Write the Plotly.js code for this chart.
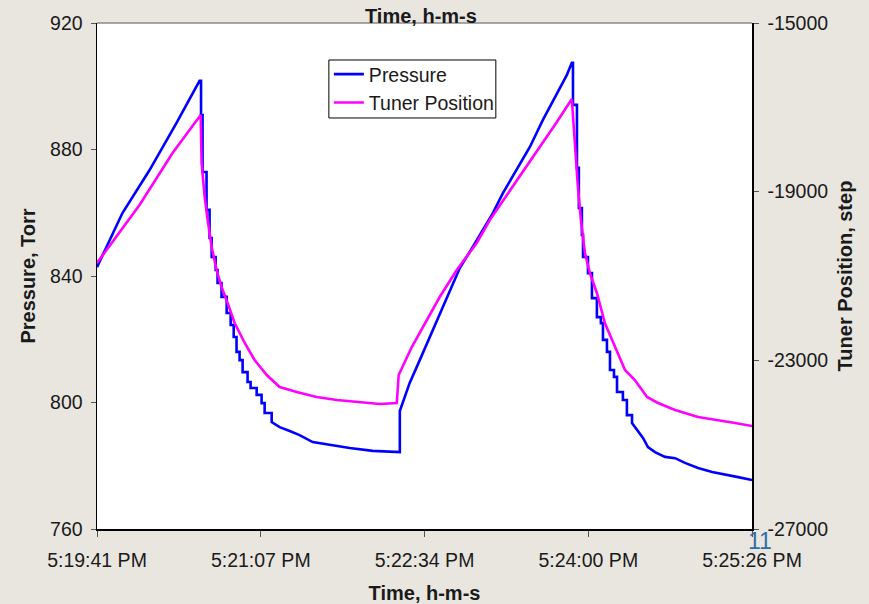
<!DOCTYPE html>
<html>
<head>
<meta charset="utf-8">
<script src="https://cdn.plot.ly/plotly-3.0.1.min.js"></script>
<style>
  html, body { margin: 0; padding: 0; background: rgb(233,230,224); }
  #chart { width: 869px; height: 604px; }
</style>
</head>
<body>
<div id="chart"></div>
<script>
// Time in seconds after 5:19:41 PM
const pressureTime = [
  0, 13.4, 27.7, 41.9, 54.0,
  54.8, 54.8, 55.6, 55.6, 57.7, 57.7, 59.3, 59.3, 60.4, 60.4, 62.5, 62.5, 63.5, 63.5,
  65.6, 65.6, 68.3, 68.3, 70.4, 70.4, 72.0, 72.0, 73.5, 73.5, 75.1, 75.1, 76.7, 76.7,
  79.3, 79.3, 80.9, 80.9, 84.1, 84.1, 86.7, 86.7, 88.3, 88.3, 92.0, 92.0,
  96.2, 101.5, 106.7, 113.6, 122.6, 133.1, 145.2, 158.4,
  159.5, 159.5, 162.1, 164.7, 170.0, 175.3, 180.5, 185.8, 191.1, 197.9, 203.2, 208.5,
  213.8, 221.1, 228.0, 234.8, 242.2, 247.5, 250.1,
  250.7, 250.7, 252.8, 252.8, 253.8, 253.8, 255.4, 255.4, 256.0, 256.0, 258.6, 258.6,
  260.7, 260.7, 263.3, 263.3, 265.4, 265.4, 266.5, 266.5, 268.6, 268.6, 270.2, 270.2,
  272.3, 272.3, 273.9, 273.9, 277.0, 277.0, 279.1, 279.1, 281.8, 281.8,
  284.4, 287.6, 290.2, 293.9, 299.2, 304.5, 309.7, 316.6, 324.0, 330.8, 337.7, 345.0
];
const pressureTorr = [
  842.8, 859.9, 873.5, 888.4, 901.7,
  901.7, 890.9, 890.9, 872.9, 872.9, 860.9, 860.9, 852.0, 852.0, 846.0, 846.0, 841.9, 841.9, 837.8,
  837.8, 833.4, 833.4, 828.3, 828.3, 824.5, 824.5, 820.7, 820.7, 816.0, 816.0, 813.4, 813.4, 809.6,
  809.6, 806.5, 806.5, 804.6, 804.6, 802.4, 802.4, 799.8, 799.8, 796.7, 796.7, 793.8,
  792.2, 791.0, 789.7, 787.5, 786.6, 785.6, 784.7, 784.3,
  784.3, 797.3, 802.1, 806.2, 813.4, 820.7, 828.3, 835.6, 842.5, 849.2, 854.5, 859.9,
  866.2, 873.5, 880.8, 889.3, 897.9, 903.6, 907.4,
  907.4, 894.1, 894.1, 874.2, 874.2, 861.5, 861.5, 853.0, 853.0, 846.0, 846.0, 840.9,
  840.9, 833.0, 833.0, 827.0, 827.0, 825.1, 825.1, 819.8, 819.8, 816.0, 816.0, 810.3,
  810.3, 808.1, 808.1, 803.3, 803.3, 800.8, 800.8, 796.0, 796.0, 793.5,
  791.3, 788.8, 785.9, 784.3, 782.8, 782.4, 780.9, 779.3, 778.0, 777.1, 776.4, 775.5
];

const tunerTime = [
  0, 22.4, 39.8, 54.6,
  55.1, 56.7, 58.3, 60.4, 63.0, 65.6, 68.8, 72.5, 77.8, 83.0, 89.4, 96.2, 105.2,
  115.7, 126.3, 136.8, 148.9, 157.9,
  158.9, 165.8, 173.7, 180.5, 189.5, 200.0, 206.9, 215.9, 224.3, 233.3, 242.2, 250.1,
  251.7, 253.3, 254.9, 257.0, 259.6, 263.3, 267.5, 272.8, 278.1, 283.3, 289.7, 295.5,
  304.5, 316.6, 327.1, 336.1, 345.0
];
const tunerStep = [
  -20692, -19316, -18083, -17182,
  -18320, -19126, -19672, -20312, -20858, -21261, -21640, -22115, -22589, -22992, -23348, -23632, -23751,
  -23869, -23941, -23988, -24035, -24012,
  -23348, -22684, -22043, -21498, -20858, -20217, -19672, -19079, -18534, -17941, -17348, -16802,
  -17846, -18889, -19672, -20454, -20929, -21403, -22115, -22684, -23229, -23466, -23869, -24012,
  -24178, -24344, -24415, -24486, -24557
];

const xTickSeconds = [0, 86.25, 172.5, 258.75, 345];
const xTickLabels = ["5:19:41 PM", "5:21:07 PM", "5:22:34 PM", "5:24:00 PM", "5:25:26 PM"];
const pressureTicks = [760, 800, 840, 880, 920];
const tunerTicks = [-27000, -23000, -19000, -15000];
const tunerTickLabels = ["-27000", "-23000", "-19000", "-15000"];

const FONT = "Liberation Sans, Arial, sans-serif";
const INK = "#1a1a1a";
const TICKFONT = { family: FONT, size: 19.5, color: INK };
const TITLEFONT = { family: FONT, size: 20, color: INK };

const traces = [
  {
    x: pressureTime, y: pressureTorr, name: "Pressure", type: "scatter", mode: "lines",
    line: { color: "#0000FF", width: 2.6 }, yaxis: "y"
  },
  {
    x: tunerTime, y: tunerStep, name: "Tuner Position", type: "scatter", mode: "lines",
    line: { color: "#FF00FF", width: 2.6 }, yaxis: "y2"
  }
];

const layout = {
  width: 869, height: 604,
  margin: { l: 97, r: 117, t: 23, b: 75 },
  paper_bgcolor: "rgb(233,230,224)",
  plot_bgcolor: "#FFFFFF",
  font: { family: FONT, size: 19.5, color: INK },
  showlegend: true,
  legend: {
    x: 0.354, y: 0.9368, xanchor: "left", yanchor: "top",
    bgcolor: "rgba(0,0,0,0)", borderwidth: 0,
    font: { family: FONT, size: 19.5, color: INK },
    itemwidth: 30, tracegroupgap: 0
  },
  xaxis: {
    range: [0, 345], tickvals: xTickSeconds, ticktext: xTickLabels,
    showgrid: false, zeroline: false, showline: true, linecolor: "#000", linewidth: 1.5,
    ticks: "outside", ticklen: 6, tickcolor: "#555", tickwidth: 1,
    ticklabelstandoff: 7,
    tickfont: TICKFONT,
    title: { text: "<b>Time, h-m-s</b>", font: TITLEFONT, standoff: 18 },
    automargin: false, fixedrange: true
  },
  yaxis: {
    range: [760, 920], tickvals: pressureTicks,
    showgrid: false, zeroline: false, showline: true, linecolor: "#000", linewidth: 1.5,
    ticks: "outside", ticklen: 5, tickcolor: "#555", tickwidth: 1,
    ticklabelstandoff: 4,
    tickfont: TICKFONT,
    title: { text: "<b>Pressure, Torr</b>", font: TITLEFONT, standoff: 9 },
    automargin: false, fixedrange: true
  },
  yaxis2: {
    range: [-27000, -15000], tickvals: tunerTicks, ticktext: tunerTickLabels,
    overlaying: "y", side: "right",
    showgrid: false, zeroline: false, showline: true, linecolor: "#000", linewidth: 1.5,
    ticks: "outside", ticklen: 5, tickcolor: "#555", tickwidth: 1,
    ticklabelstandoff: 5,
    tickfont: TICKFONT,
    title: { text: "<b>Tuner Position, step</b>", font: TITLEFONT, standoff: 10 },
    automargin: false, fixedrange: true
  },
  yaxis3: {
    range: [-27000, -15000], tickvals: tunerTicks, overlaying: "y", side: "right",
    showgrid: false, zeroline: false, showline: false, showticklabels: false,
    ticks: "inside", ticklen: 5, tickcolor: "#555", tickwidth: 1,
    automargin: false, fixedrange: true
  },
  shapes: [
    { type: "line", xref: "paper", yref: "paper", x0: 0, x1: 1, y0: 1, y1: 1,
      line: { color: "#8a8a8a", width: 1.5 } },
    { type: "rect", xref: "paper", yref: "paper", x0: 0.354, x1: 0.6089, y0: 0.8123, y1: 0.9269,
      layer: "above", fillcolor: "#FFFFFF", line: { color: "#000000", width: 1 } }
  ],
  annotations: [
    { text: "<b>Time, h-m-s</b>", xref: "paper", yref: "paper", x: 0.494, y: 1.0,
      xanchor: "center", yanchor: "bottom", yshift: -6, showarrow: false,
      font: TITLEFONT },
    { text: "11", xref: "paper", yref: "paper", x: 1.012, y: -0.024,
      xanchor: "center", yanchor: "middle", showarrow: false,
      font: { family: FONT, size: 23, color: "#2E6EA6" } }
  ]
};

Plotly.newPlot("chart", traces, layout, { displayModeBar: false, staticPlot: true });
</script>
</body>
</html>
